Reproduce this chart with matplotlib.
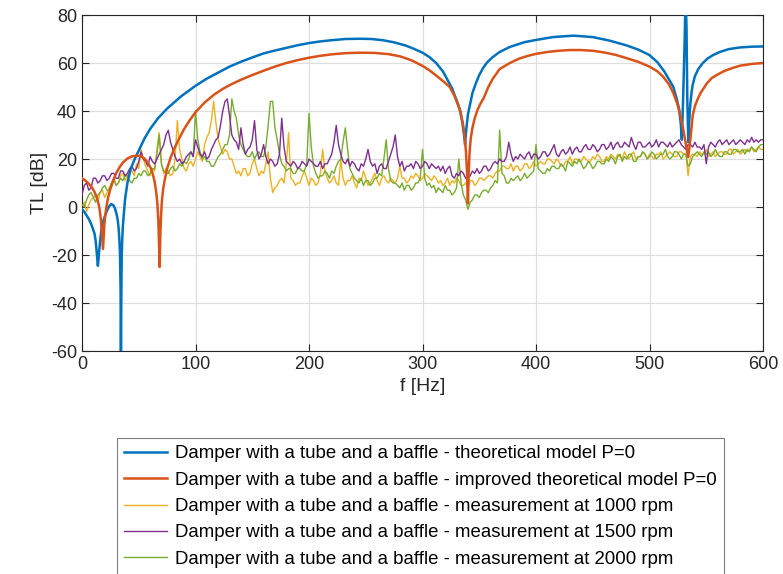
import numpy as np
import matplotlib.pyplot as plt

plt.rcParams['font.family'] = ['Liberation Sans', 'DejaVu Sans']
plt.rcParams['axes.unicode_minus'] = False

# theoretical model P=0
f_theory = [0, 2, 4, 6, 8, 10, 11, 12, 13, 13.5,
            14, 14.5, 15, 16, 17, 18, 20, 22, 23.5, 25.5,
            27.5, 29, 30.5, 31.5, 32.3, 33, 33.5, 34, 34.3, 34.6,
            35, 35.5, 36, 37, 38, 40, 43, 46, 50, 55,
            60, 67, 75, 87, 100, 110, 120, 130, 140, 150,
            160, 170, 180, 190, 200, 210, 220, 232, 245, 255,
            265, 275, 285, 292, 300, 306, 312, 318, 322, 326,
            330, 333, 335, 336.5, 337.5, 338.5, 340, 342, 344, 347,
            350, 353.5, 357, 362, 368, 377, 390, 400, 415, 433,
            450, 465, 480, 490, 500, 507, 513, 518, 521, 524,
            526, 527.5, 528.5, 529.3, 530, 531, 531.8, 532.6, 533.3, 534.2,
            535, 536, 537, 538, 540, 543, 547, 551, 556, 562,
            570, 580, 590, 600]
tl_theory = [-1, -2, -3.5, -5, -7, -9.6, -11, -14, -19, -22,
             -24.5, -22, -19, -14, -10, -7, -4, -1.5, 0, 1.2,
             0.8, -0.5, -3, -5.5, -9, -14, -20, -35, -65, -40,
             -20, -13, -8, -2, 3.5, 10, 16, 19.5, 23.5, 28.5,
             32.5, 37, 41, 46, 50.5, 53.5, 56, 58.5, 60.5, 62.3,
             64, 65.2, 66.3, 67.4, 68.3, 69, 69.5, 70, 70.1, 70,
             69.5, 68.6, 67.3, 66, 64.3, 62.5, 60, 56.5, 53, 49.5,
             44.5, 40.4, 35.5, 30.5, 26, 32, 38.5, 43, 47.5, 51.5,
             55, 58, 60.3, 62.5, 64.6, 66.7, 68.7, 69.6, 70.8, 71.4,
             70.8, 69.3, 67.3, 65.6, 63.3, 60.3, 56.5, 52.5, 50, 45,
             41, 35, 28, 40, 52, 70, 88, 75, 45, 27,
             36, 43, 47.5, 50.8, 54.5, 57.5, 60, 61.8, 63.3, 64.6,
             65.8, 66.5, 66.8, 66.9]

# improved theoretical model P=0
f_improved = [0, 3, 6, 9, 11, 13, 14.5, 15.5, 16.5, 17.3,
              18, 18.5, 19, 19.7, 20.5, 21.5, 23, 25, 27.5, 30,
              33, 36, 40, 44, 48, 52, 55, 58, 60.5, 62.5,
              64, 65.3, 66.3, 67.2, 67.8, 68.4, 69, 69.6, 70.4, 71.5,
              73, 75, 78, 81, 85, 90, 95, 100, 108, 116,
              124, 131, 140, 148, 160, 170, 180, 190, 200, 210,
              220, 232, 245, 258, 270, 280, 290, 300, 306, 312,
              318, 324, 328, 331, 333.5, 335.5, 337, 338.3, 339.3, 340,
              340.7, 341.5, 342.5, 344, 346, 348.5, 351, 354, 358, 362,
              368, 377, 385, 393, 400, 410, 420, 430, 439, 450,
              460, 470, 480, 490, 500, 507, 512, 517, 521, 524.5,
              527, 529.5, 531.5, 533, 534, 535, 536.5, 538, 540, 542,
              545, 550.5, 555, 560, 566, 573.6, 580, 590, 600]
tl_improved = [12, 11, 9.7, 8, 6.3, 4, 1.5, -1, -4.5, -9,
               -14, -17.5, -13, -7.5, -3.5, 0, 4, 7.5, 11, 14,
               16.5, 18.5, 20.2, 21.1, 21.4, 21.1, 20.2, 18.5, 16.3, 13.5,
               10.5, 6.5, 2, -5, -14, -25, -12, -4, 2.5, 7.5,
               11.5, 16, 20.5, 24, 28, 32.5, 36.2, 39.5, 43.5, 46.7,
               49.2, 51, 53, 54.6, 56.8, 58.5, 60, 61.2, 62.2, 63,
               63.6, 64.1, 64.3, 64.2, 63.7, 62.8, 61.2, 58.8, 57, 54.8,
               52.5, 50, 46.5, 43, 39.5, 35, 30, 23, 14, 1.5,
               14, 23, 28.5, 33, 37, 40.5, 43, 45.5, 50, 53.5,
               57.5, 60, 61.8, 63, 63.8, 64.6, 65.1, 65.4, 65.4, 65.1,
               64.4, 63.4, 62, 60.5, 58.5, 56.5, 54.3, 51.2, 47.5, 43,
               38.5, 33, 27.5, 23.5, 20.8, 24, 30.5, 38, 42, 44.5,
               47.5, 51.5, 53.8, 55.2, 56.7, 58, 58.9, 59.6, 60]

# measurements, 2 Hz steps from 0 to 600 Hz
f_meas = np.arange(0, 601, 2)
tl_1000 = [0, 2, -2, 1, 3, 4, 5, 2, 6, 7,
           4, 6, 8, 10, 12, 9, 10, 13, 14, 11,
           13, 15, 15, 13, 18, 16, 24, 20, 17, 15,
           13, 16, 15, 24, 31, 18, 14, 16, 15, 13,
           14, 20, 36, 24, 20, 16, 15, 18, 19, 17,
           20, 23, 21, 19, 26, 29, 31, 36, 44, 35,
           28, 25, 22, 24, 23, 20, 20, 17, 14, 15,
           13, 16, 16, 13, 14, 18, 20, 16, 13, 15,
           14, 18, 23, 12, 6, 8, 9, 11, 12, 10,
           18, 31, 12, 11, 9, 10, 10, 13, 15, 12,
           9, 12, 11, 9, 10, 14, 24, 15, 12, 10,
           11, 13, 10, 9, 20, 12, 9, 11, 11, 13,
           10, 8, 12, 11, 15, 12, 9, 10, 12, 14,
           11, 9, 12, 13, 11, 10, 12, 11, 10, 12,
           17, 12, 12, 10, 11, 13, 12, 14, 13, 11,
           12, 14, 13, 12, 11, 13, 12, 10, 11, 9,
           10, 12, 9, 11, 10, 12, 11, 9, 9, 10,
           8, 11, 11, 9, 10, 12, 12, 11, 12, 13,
           13, 12, 14, 15, 15, 17, 17, 16, 16, 18,
           15, 17, 17, 15, 16, 18, 18, 16, 17, 19,
           17, 18, 19, 18, 18, 20, 20, 19, 18, 20,
           19, 17, 17, 19, 19, 21, 18, 20, 20, 19,
           19, 21, 20, 19, 19, 21, 20, 22, 21, 19,
           19, 21, 20, 22, 21, 20, 22, 21, 20, 23,
           21, 20, 22, 23, 20, 21, 21, 23, 22, 20,
           22, 21, 20, 22, 22, 23, 20, 21, 22, 23,
           22, 21, 21, 23, 23, 22, 22, 13, 21, 22,
           22, 21, 23, 22, 22, 24, 21, 22, 23, 21,
           22, 23, 23, 22, 22, 24, 24, 22, 23, 24,
           22, 23, 24, 23, 24, 25, 23, 24, 25, 24,
           24]
tl_1500 = [5, 9, 10, 7, 8, 12, 12, 10, 11, 13,
           13, 11, 12, 14, 14, 12, 12, 15, 15, 13,
           14, 16, 17, 15, 16, 19, 23, 20, 19, 17,
           21, 19, 18, 20, 22, 24, 26, 30, 32, 27,
           24, 21, 19, 20, 18, 19, 21, 22, 23, 21,
           28, 25, 22, 21, 23, 20, 21, 24, 26, 28,
           29, 34, 40, 44, 45, 38, 30, 28, 27, 24,
           33, 26, 22, 24, 25, 28, 36, 24, 20, 22,
           26, 21, 18, 20, 19, 17, 18, 22, 37, 25,
           19, 18, 17, 19, 18, 16, 17, 19, 18, 17,
           20, 19, 18, 17, 17, 19, 16, 18, 18, 20,
           22, 27, 34, 26, 22, 19, 18, 20, 17, 19,
           18, 16, 15, 18, 17, 20, 24, 19, 17, 18,
           14, 17, 18, 16, 16, 19, 22, 25, 30, 21,
           17, 19, 15, 17, 17, 18, 16, 19, 18, 16,
           17, 19, 18, 16, 18, 17, 16, 17, 15, 17,
           14, 16, 17, 13, 12, 14, 13, 15, 14, 12,
           12, 13, 15, 14, 16, 14, 15, 17, 17, 15,
           16, 18, 19, 18, 20, 19, 19, 21, 27, 22,
           19, 21, 20, 22, 21, 20, 22, 23, 20, 22,
           22, 20, 21, 23, 23, 21, 22, 24, 26, 22,
           21, 23, 24, 22, 23, 25, 22, 24, 25, 23,
           23, 25, 26, 24, 24, 26, 25, 23, 24, 26,
           26, 24, 25, 27, 24, 26, 27, 25, 25, 27,
           26, 25, 29, 26, 24, 27, 27, 25, 25, 26,
           27, 25, 26, 28, 25, 27, 27, 26, 25, 27,
           25, 26, 27, 28, 26, 25, 24, 26, 26, 25,
           27, 25, 25, 24, 26, 18, 25, 27, 26, 25,
           27, 28, 26, 27, 28, 26, 27, 28, 26, 27,
           28, 27, 26, 28, 27, 29, 27, 28, 27, 28,
           28]
tl_2000 = [1, 0, 3, 5, 6, 4, 2, 5, 6, 8,
           9, 7, 7, 10, 12, 9, 10, 12, 11, 13,
           13, 11, 10, 12, 12, 14, 13, 15, 15, 13,
           14, 16, 16, 22, 30, 18, 15, 14, 14, 16,
           17, 15, 16, 18, 17, 19, 18, 20, 23, 21,
           40, 28, 23, 20, 21, 19, 19, 17, 17, 19,
           21, 22, 24, 26, 26, 30, 45, 40, 37, 30,
           26, 24, 22, 21, 21, 23, 20, 22, 23, 21,
           21, 25, 34, 44, 44, 33, 28, 22, 18, 17,
           15, 16, 16, 14, 14, 16, 16, 15, 15, 18,
           39, 25, 17, 14, 12, 13, 13, 15, 14, 12,
           15, 14, 17, 19, 20, 27, 33, 24, 16, 14,
           12, 11, 10, 12, 9, 11, 11, 9, 10, 12,
           12, 14, 13, 20, 28, 16, 11, 10, 10, 9,
           8, 10, 7, 9, 9, 7, 8, 10, 10, 12,
           24, 12, 9, 10, 8, 9, 6, 8, 7, 6,
           9, 7, 7, 5, 6, 8, 20, 10, 5, 3,
           -1, 2, 3, 5, 5, 4, 6, 7, 7, 6,
           8, 9, 11, 10, 32, 14, 13, 10, 10, 12,
           11, 12, 13, 11, 12, 14, 12, 13, 14, 15,
           26, 16, 15, 14, 14, 16, 15, 17, 17, 16,
           16, 18, 17, 15, 19, 18, 17, 19, 18, 20,
           18, 16, 17, 19, 18, 16, 17, 19, 19, 18,
           18, 20, 19, 21, 20, 18, 21, 22, 19, 21,
           20, 22, 22, 19, 19, 21, 21, 23, 22, 20,
           21, 23, 22, 20, 21, 22, 22, 24, 21, 20,
           21, 23, 23, 22, 20, 22, 22, 17, 18, 21,
           22, 23, 22, 21, 23, 22, 23, 21, 22, 24,
           22, 21, 21, 23, 23, 22, 22, 24, 24, 23,
           23, 24, 22, 24, 23, 25, 24, 23, 25, 26,
           26]

labels = ['Damper with a tube and a baffle - theoretical model P=0',
          'Damper with a tube and a baffle - improved theoretical model P=0',
          'Damper with a tube and a baffle - measurement at 1000 rpm',
          'Damper with a tube and a baffle - measurement at 1500 rpm',
          'Damper with a tube and a baffle - measurement at 2000 rpm']

fig = plt.figure(figsize=(7.83, 5.74), dpi=100)
ax = fig.add_axes([82/783, 1-351/574, 681/783, 336/574])

l3, = ax.plot(f_meas, tl_1000, color='#EDB120', lw=1.0, zorder=2)
l5, = ax.plot(f_meas, tl_2000, color='#77AC30', lw=1.0, zorder=3)
l4, = ax.plot(f_meas, tl_1500, color='#7E2F8E', lw=1.0, zorder=3)
l1, = ax.plot(f_theory, tl_theory, color='#0072BD', lw=1.8, zorder=4)
l2, = ax.plot(f_improved, tl_improved, color='#D95319', lw=1.8, zorder=4)

ax.set_xlim(0, 600)
ax.set_ylim(-60, 80)
ax.set_xticks(range(0, 601, 100))
ax.set_yticks(range(-60, 81, 20))
ax.grid(True, color='#dedede', lw=0.9)
ax.set_axisbelow(True)
ax.tick_params(direction='in', length=5, top=True, right=True,
               labelsize=13, colors='#262626', width=0.8)
for s in ax.spines.values():
    s.set_color('#262626')
    s.set_linewidth(0.8)
ax.set_xlabel('f [Hz]', fontsize=14, color='#262626', labelpad=4)
ax.set_ylabel('TL [dB]', fontsize=14, color='#262626', labelpad=2)

leg = fig.legend([l1, l2, l3, l4, l5], labels, loc='upper left',
                 bbox_to_anchor=(117/783, 1-438/574), borderaxespad=0,
                 fontsize=13.4, handlelength=2.3, handletextpad=0.4,
                 labelspacing=0.5, fancybox=False, edgecolor='#808080',
                 framealpha=1)
leg.get_frame().set_linewidth(0.8)

fig.savefig('out.png', dpi=100)
